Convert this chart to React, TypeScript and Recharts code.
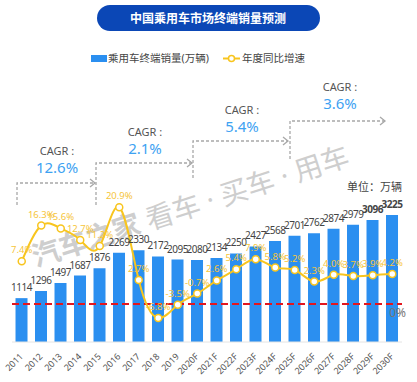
import React from 'react';
import { ComposedChart, Bar, Line, XAxis, YAxis, LabelList, ReferenceLine } from 'recharts';

const years = ['2011', '2012', '2013', '2014', '2015', '2016', '2017', '2018', '2019', '2020F',
  '2021F', '2022F', '2023F', '2024F', '2025F', '2026F', '2027F', '2028F', '2029F', '2030F'];
const sales = [1114, 1296, 1497, 1687, 1876, 2269, 2330, 2172, 2095, 2080,
  2134, 2250, 2427, 2568, 2701, 2762, 2874, 2979, 3096, 3225];
const growth = [7.4, 16.3, 15.6, 12.7, 11.2, 20.9, 2.7, -6.8, -3.5, -0.7,
  2.6, 5.4, 7.9, 5.8, 5.2, 2.3, 4.0, 3.7, 3.9, 4.2];
const cagrValues = ['12.6%', '2.1%', '5.4%', '3.6%'];

const data = years.map((year, i) => ({ year, sales: sales[i], growth: growth[i] }));

const FONT = "'Noto Sans', 'Noto Sans CJK SC', sans-serif";
const BLUE = '#2b8ff0';
const YELLOW = '#f8c51e';
const GRAY_DASH = '#a8a8a8';

// CAGR step annotations (decorative, positioned over the chart)
const steps = [
  { x: 17, yTop: 183, yBottom: 205, xEnd: 95, labelX: 57, labelY: 152 },
  { x: 96, yTop: 163, yBottom: 205, xEnd: 192, labelX: 145, labelY: 133 },
  { x: 193, yTop: 141, yBottom: 178, xEnd: 288, labelX: 242, labelY: 111 },
  { x: 290, yTop: 121, yBottom: 159, xEnd: 385, labelX: 340, labelY: 88 },
];

function SalesLabel(props: any) {
  const { x, y, width, value } = props;
  return (
    <text x={x + width / 2} y={y - 7} textAnchor="middle" fontSize={10} fill="#444"
      fontWeight={value >= 3096 ? 'bold' : 'normal'} letterSpacing={-0.5} fontFamily={FONT}>
      {value}
    </text>
  );
}

function GrowthLabel(props: any) {
  const { x, y, value } = props;
  return (
    <text x={x} y={y - 8} textAnchor="middle" fontSize={9.5} fill="#f6c53a" fontFamily={FONT}>
      {`${Number(value).toFixed(1)}%`}
    </text>
  );
}

function YearTick(props: any) {
  const { x, payload } = props;
  const bx = x + 2;
  const by = 357;
  return (
    <text x={bx} y={by} textAnchor="end" fontSize={9} fill="#555" fontFamily={FONT}
      transform={`rotate(-45 ${bx} ${by})`}>
      {payload.value}
    </text>
  );
}

function ZeroLabel(props: any) {
  const vb = props.viewBox || {};
  return (
    <text x={vb.x + vb.width + 4} y={vb.y + 13} textAnchor="end" fontSize={12} fill="#777" fontFamily={FONT}>
      0%
    </text>
  );
}

export default function App() {
  return (
    <div style={{ position: 'absolute', left: 0, top: 0, width: 417, height: 382, background: '#fff', fontFamily: FONT }}>
      {/* watermark */}
      <svg width={417} height={382} style={{ position: 'absolute', left: 0, top: 0 }}>
        <text x={36} y={267} transform="rotate(-18 36 267)" fontSize={28} fill="#c6c6c6"
          opacity={0.85} fontFamily={FONT}>
          <tspan fontWeight="bold">汽车之家</tspan>
          <tspan> 看车 · 买车 · 用车</tspan>
        </text>
      </svg>

      <div style={{ position: 'absolute', left: 0, top: 0 }}>
        <ComposedChart width={417} height={382} data={data} margin={{ top: 30, right: 15, bottom: 0, left: 12 }}
          barCategoryGap="18%">
          <XAxis dataKey="year" interval={0} height={40} tickLine={false} axisLine={{ stroke: '#e4e4e4' }}
            tick={<YearTick />} />
          <YAxis yAxisId="v" hide domain={[0, 7925]} />
          <YAxis yAxisId="p" hide domain={[-12.8, 65.2]} />
          <ReferenceLine yAxisId="p" y={-3.3} stroke="#e3161e" strokeDasharray="7 4" strokeWidth={2}
            label={ZeroLabel} />
          <Bar yAxisId="v" dataKey="sales" fill={BLUE} isAnimationActive={false}>
            <LabelList dataKey="sales" content={SalesLabel} />
          </Bar>
          <Line yAxisId="p" dataKey="growth" type="natural" stroke={YELLOW} strokeWidth={2}
            dot={{ r: 3.5, fill: '#fff', stroke: YELLOW, strokeWidth: 1.5 }} isAnimationActive={false}>
            <LabelList dataKey="growth" content={GrowthLabel} />
          </Line>
        </ComposedChart>
      </div>

      {/* title, legend, CAGR annotations */}
      <svg width={417} height={382} style={{ position: 'absolute', left: 0, top: 0, pointerEvents: 'none' }}>
        <rect x={97} y={5} width={223} height={26} rx={13} fill="#0b47b6" />
        <text x={208} y={22.5} textAnchor="middle" fontSize={12} fontWeight="bold" fill="#fff" fontFamily={FONT}>
          中国乘用车市场终端销量预测
        </text>

        <rect x={91} y={55} width={16} height={7} fill={BLUE} />
        <text x={108} y={62} fontSize={10.5} fill="#444" fontFamily={FONT}>乘用车终端销量(万辆)</text>
        <line x1={223} x2={240} y1={58.5} y2={58.5} stroke={YELLOW} strokeWidth={2} />
        <circle cx={231.5} cy={58.5} r={3} fill="#fff" stroke={YELLOW} strokeWidth={1.5} />
        <text x={242} y={62} fontSize={10.5} fill="#444" fontFamily={FONT}>年度同比增速</text>

        {steps.map((s, i) => (
          <g key={i}>
            <path d={`M${s.x},${s.yBottom} V${s.yTop} H${s.xEnd}`} fill="none" stroke={GRAY_DASH}
              strokeWidth={1.3} strokeDasharray="3 2" />
            <path d={`M${s.xEnd - 5},${s.yTop - 4} L${s.xEnd},${s.yTop} L${s.xEnd - 5},${s.yTop + 4}`}
              fill="none" stroke={GRAY_DASH} strokeWidth={1.3} />
            <text x={s.labelX} y={s.labelY + 3} textAnchor="middle" fontSize={11} fill="#555" fontFamily={FONT}>
              CAGR :
            </text>
            <text x={s.labelX} y={s.labelY + 21} textAnchor="middle" fontSize={15} fill="#3ea2f2" fontFamily={FONT}>
              {cagrValues[i]}
            </text>
          </g>
        ))}

        <text x={402} y={191} textAnchor="end" fontSize={11} fill="#444" fontFamily={FONT}>单位：万辆</text>
      </svg>
    </div>
  );
}
